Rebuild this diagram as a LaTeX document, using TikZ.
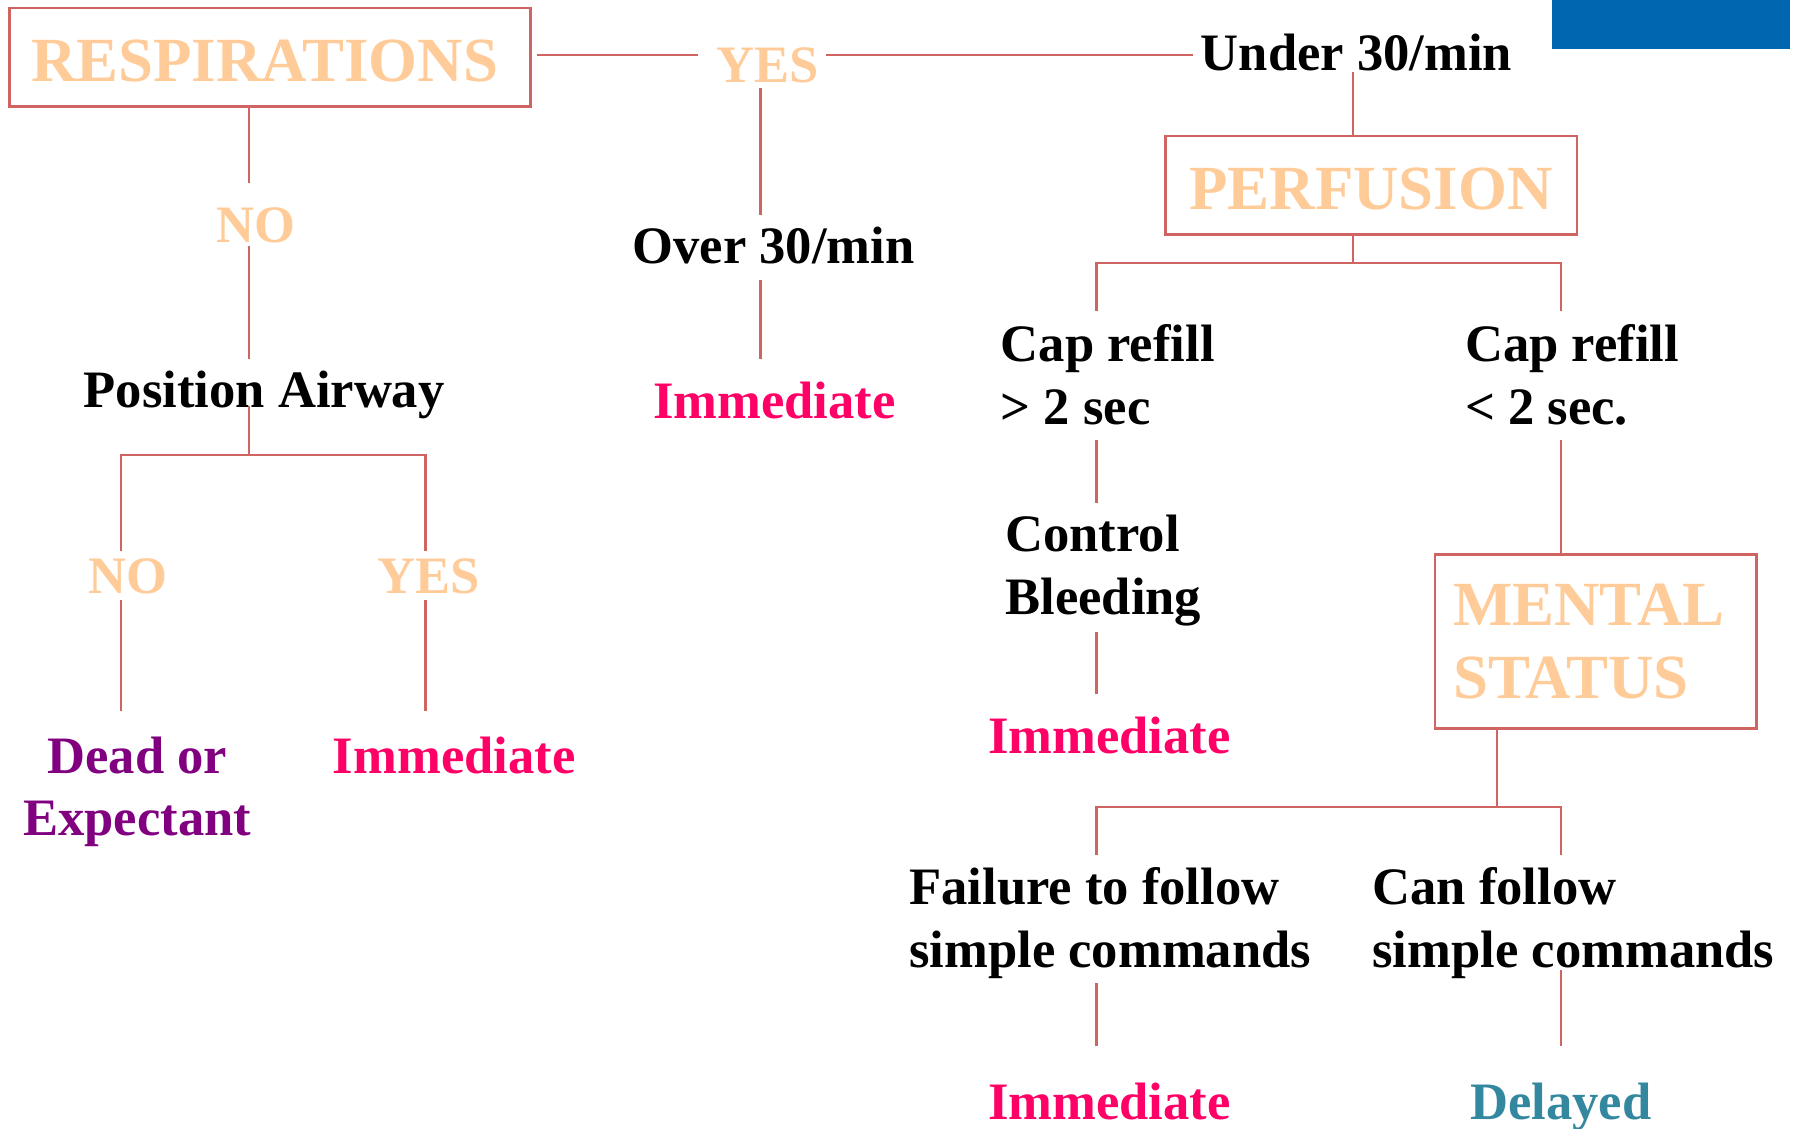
\documentclass[tikz,border=0pt]{standalone}
\usepackage{fontspec}
\setmainfont{Liberation Serif}
\definecolor{wirecol}{RGB}{208,100,98}
\definecolor{peach}{RGB}{255,204,153}
\definecolor{hot}{RGB}{255,0,102}
\definecolor{plum}{RGB}{128,0,128}
\definecolor{tealish}{RGB}{51,136,160}
\definecolor{band}{RGB}{0,102,176}

\begin{document}
\begin{tikzpicture}[x=1pt,y=-1pt,
  txt/.style={inner sep=0pt, font=\fontsize{46}{55}\selectfont\bfseries, align=left},
  ans/.style={txt, text=peach},
  headbox/.style={draw=wirecol, line width=2.4pt, inner sep=0pt,
    font=\fontsize{55}{64}\selectfont\bfseries, text=peach, align=left},
  wire/.style={draw=wirecol, line width=2pt}]

% canvas
\fill[white] (0,0) rectangle (1568,987);
\path[use as bounding box] (0,0) rectangle (1568,987);
\fill[band] (1357,0) rectangle (1565,43);

% headings in boxes
\node[headbox, minimum width=456pt, minimum height=86pt, text height=42pt, text depth=0pt]
  (resp) at (236,50) {RESPIRATIONS\hspace*{9pt}};
\node[headbox, minimum width=360pt, minimum height=86pt, text height=42pt, text depth=0pt]
  (perf) at (1199,162) {PERFUSION};
\node[headbox, minimum width=281pt, minimum height=152pt] (mental) at (1395.5,561) {MENTAL\hspace*{12pt}\\STATUS};

% answers and steps (two-line texts are placed by their last baseline)
\node[ans, anchor=base] (yes1) at (671,72) {YES};
\node[txt, anchor=base west] (under) at (1050,62) {Under 30/min};
\node[ans, anchor=base] (no1) at (224,212) {NO};
\node[txt, anchor=base west] (over) at (553,230) {Over 30/min};
\node[txt, anchor=base west] (airway) at (73,356) {Position Airway};
\node[txt, text=hot, anchor=base west] (imm1) at (571,366) {Immediate};
\node[ans, anchor=base] (no2) at (112,519) {NO};
\node[ans, anchor=base] (yes2) at (375,519) {YES};
\node[txt, text=plum, align=center, anchor=base] (dead) at (120,731) {Dead or\\Expectant};
\node[txt, text=hot, anchor=base west] (imm2) at (291,676) {Immediate};
\node[txt, anchor=base west] (capslow) at (875,371) {Cap refill\\> 2 sec};
\node[txt, anchor=base west] (capfast) at (1281,371) {Cap refill\\< 2 sec.};
\node[txt, anchor=base west] (bleed) at (879,537) {Control\\Bleeding};
\node[txt, text=hot, anchor=base west] (imm3) at (864,659) {Immediate};
\node[txt, anchor=base west] (fail) at (795,846) {Failure to follow\\simple commands};
\node[txt, anchor=base west] (can) at (1200,846) {Can follow\\simple commands};
\node[txt, text=hot, anchor=base west] (imm4) at (864,979) {Immediate};
\node[txt, text=tealish, anchor=base] (delayed) at (1365,979) {Delayed};

% connector end points
\coordinate (respE) at (470,48);   \coordinate (yes1W) at (610,48);
\coordinate (yes1E) at (722,48);   \coordinate (underW) at (1043,48);
\coordinate (underS) at (1183,63); \coordinate (perfN) at (1183,119);
\coordinate (yes1S) at (665,77);   \coordinate (overN) at (665,188);
\coordinate (overS) at (665,245);  \coordinate (imm1N) at (665,314);
\coordinate (respS) at (218,93);   \coordinate (no1N) at (218,160);
\coordinate (no1S) at (218,215);   \coordinate (airwayN) at (218,314);
\coordinate (airwayS) at (218,355);
\coordinate (fork1) at (218,398);
\coordinate (fork1L) at (106,398); \coordinate (fork1R) at (372,398);
\coordinate (no2N) at (106,482);   \coordinate (yes2N) at (372,482);
\coordinate (no2S) at (106,525);   \coordinate (deadN) at (106,622);
\coordinate (yes2S) at (372,525);  \coordinate (imm2N) at (372,622);
\coordinate (perfS) at (1183,205); \coordinate (fork2) at (1183,230);
\coordinate (fork2L) at (959,230); \coordinate (fork2R) at (1365,230);
\coordinate (capslowN) at (959,272); \coordinate (capfastN) at (1365,272);
\coordinate (capslowS) at (959,385); \coordinate (bleedN) at (959,440);
\coordinate (bleedS) at (959,553);   \coordinate (imm3N) at (959,607);
\coordinate (capfastS) at (1365,385); \coordinate (mentalN) at (1365,485);
\coordinate (mentalS) at (1309,637); \coordinate (fork3) at (1309,706);
\coordinate (fork3L) at (959,706);   \coordinate (fork3R) at (1365,706);
\coordinate (failN) at (959,748);    \coordinate (canN) at (1365,748);
\coordinate (failS) at (959,860);    \coordinate (imm4N) at (959,915);
\coordinate (canS) at (1365,848);    \coordinate (delayedN) at (1365,915);

% connectors
\draw[wire] (respE) -- (yes1W);
\draw[wire] (yes1E) -- (underW);
\draw[wire] (underS) -- (perfN);
\draw[wire] (yes1S) -- (overN);
\draw[wire] (overS) -- (imm1N);
\draw[wire] (respS) -- (no1N);
\draw[wire] (no1S) -- (airwayN);
\draw[wire] (airwayS) -- (fork1);
\draw[wire] (no2N) -- (fork1L) -- (fork1R) -- (yes2N);
\draw[wire] (no2S) -- (deadN);
\draw[wire] (yes2S) -- (imm2N);
\draw[wire] (perfS) -- (fork2);
\draw[wire] (capslowN) -- (fork2L) -- (fork2R) -- (capfastN);
\draw[wire] (capslowS) -- (bleedN);
\draw[wire] (bleedS) -- (imm3N);
\draw[wire] (capfastS) -- (mentalN);
\draw[wire] (mentalS) -- (fork3);
\draw[wire] (failN) -- (fork3L) -- (fork3R) -- (canN);
\draw[wire] (failS) -- (imm4N);
\draw[wire] (canS) -- (delayedN);
\end{tikzpicture}
\end{document}
